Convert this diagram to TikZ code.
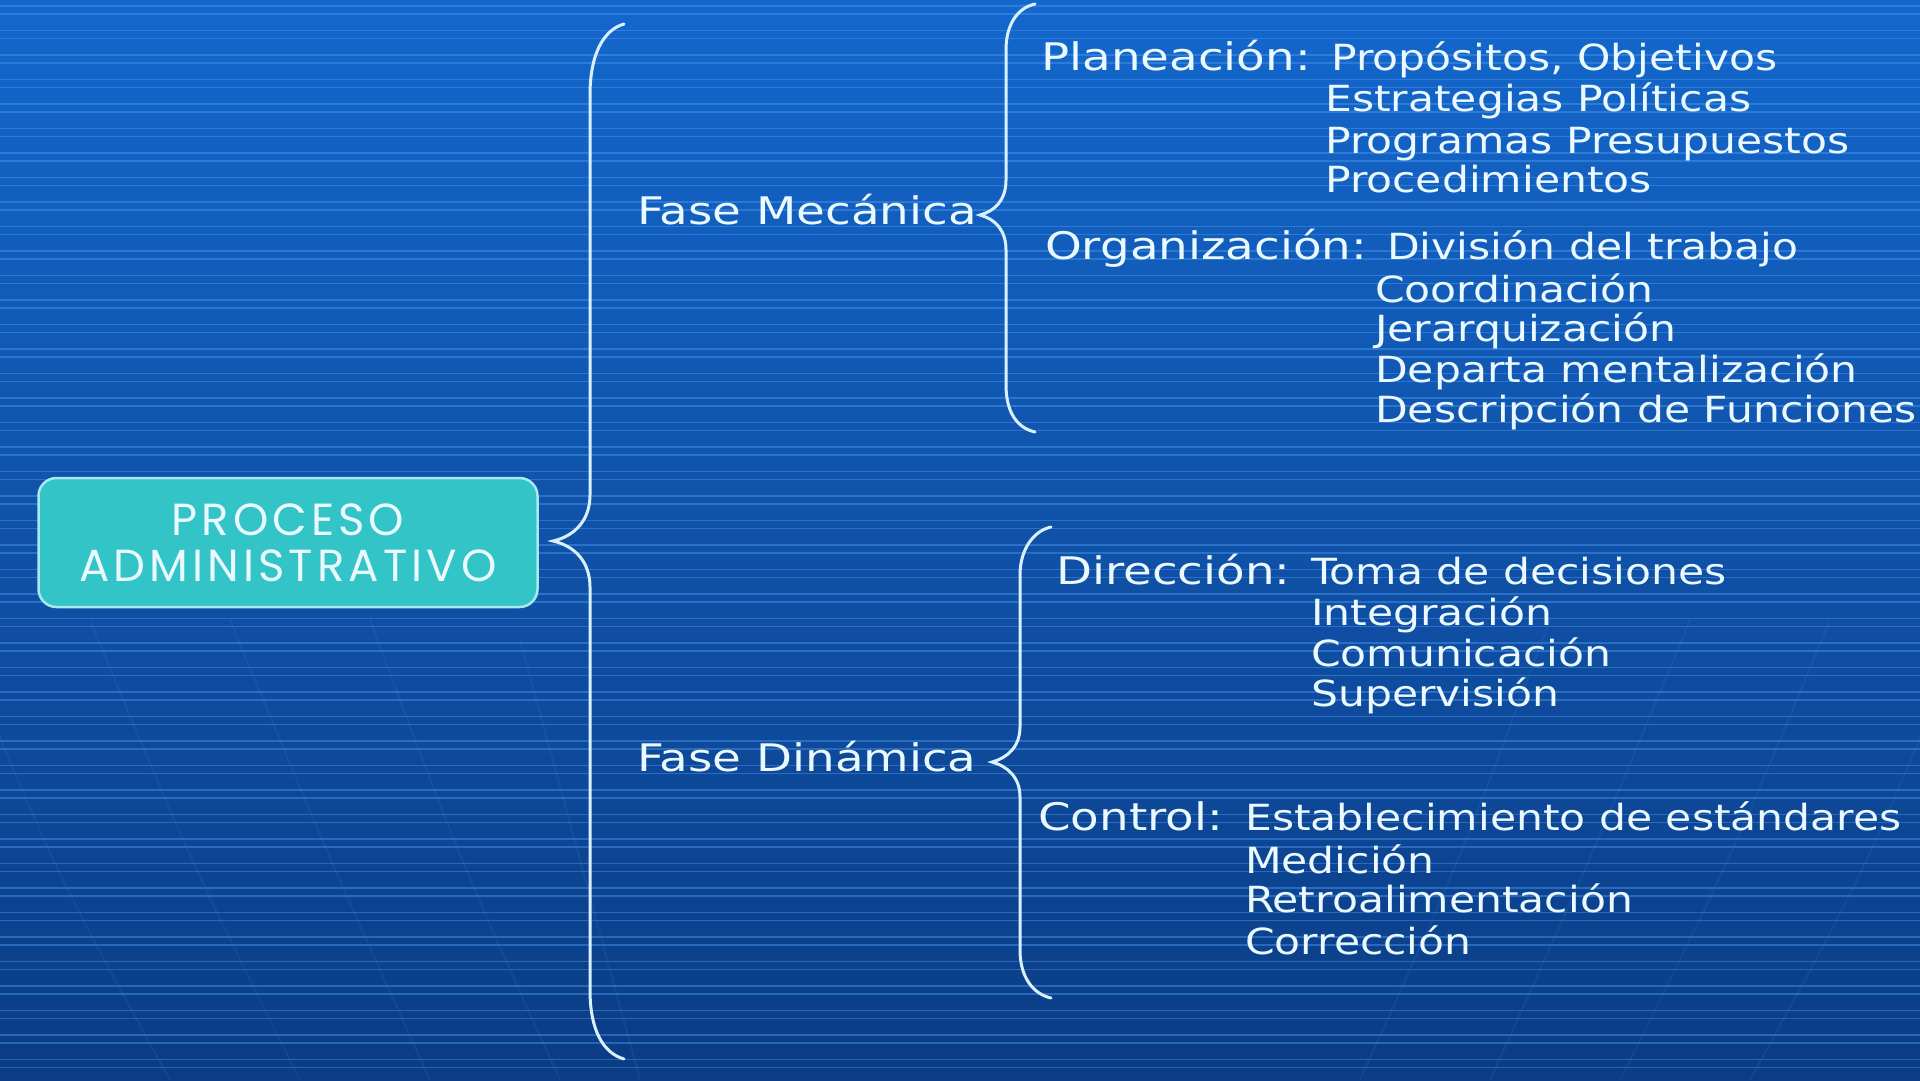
\documentclass[tikz,border=0pt]{standalone}
\usepackage{fontspec}
\setmainfont{DejaVu Sans}
\newfontfamily\txtfont[FakeStretch=1.18]{DejaVu Sans}
\newfontfamily\headfont[FakeStretch=1.23]{DejaVu Sans}
\newfontfamily\boxfont[LetterSpace=9]{Poppins}
\usetikzlibrary{calc}
\definecolor{bgtop}{HTML}{1467CC}
\definecolor{bgmid}{HTML}{0A53AC}
\definecolor{bgbot}{HTML}{0B3C84}
\definecolor{stripec}{HTML}{4A9AF2}
\definecolor{txtc}{HTML}{EAF8FF}
\definecolor{boxfill}{HTML}{33C4C8}
\definecolor{boxline}{HTML}{A8E8EE}
\definecolor{bracec}{HTML}{D8F0FF}
\tikzset{
  stripe/.style={draw=stripec, line width=1.6pt, opacity=0.45},
  globe/.style={draw=stripec, line width=2pt, opacity=0.10},
  lbl/.style={font=\txtfont\fontsize{36}{40}\selectfont, text=txtc, inner sep=0pt, anchor=base west},
  head/.style={font=\headfont\fontsize{38}{42}\selectfont, text=txtc, inner sep=0pt, anchor=base west},
  procbox/.style={draw=boxline, line width=2.5pt, fill=boxfill, rounded corners=18pt,
    minimum width=499pt, minimum height=129pt, align=center, text=txtc,
    font=\boxfont\fontsize{45}{46}\selectfont, inner sep=0pt},
  bracel/.style={draw=bracec, line width=3pt, line cap=round}
}
\begin{document}
\begin{tikzpicture}[x=1pt,y=-1pt]
\useasboundingbox (0,0) rectangle (1920,1080);
\shade[top color=bgtop, middle color=bgmid, bottom color=bgbot] (0,0) rectangle (1920,1080);
\foreach \k in {0,...,44} {
  \draw[stripe] (0,{6+24.5*\k}) -- (1920,{6+24.5*\k});
  \draw[stripe] (0,{14+24.5*\k}) -- (1920,{14+24.5*\k});
}
% faint globe lines
\draw[globe] (-20,690) .. controls (60,880) .. (170,1080);
\draw[globe] (90,620) .. controls (190,860) .. (300,1080);
\draw[globe] (230,620) .. controls (330,860) .. (430,1080);
\draw[globe] (370,620) .. controls (460,860) .. (560,1080);
\draw[globe] (520,640) .. controls (580,860) .. (640,1080);
\draw[globe] (1940,690) .. controls (1860,880) .. (1750,1080);
\draw[globe] (1830,620) .. controls (1730,860) .. (1620,1080);
\draw[globe] (1690,620) .. controls (1590,860) .. (1490,1080);
\draw[globe] (1550,620) .. controls (1460,860) .. (1360,1080);

% main box
\node[procbox] (proc) at (288,542.5) {PROCESO\\ADMINISTRATIVO};

% phase labels
\node[head] (fm) at (637,224) {Fase Mecánica};
\node[head] (fd) at (637,771) {Fase Dinámica};

% Planeacion
\node[head] (plan) at (1041,70) {Planeación:};
\node[lbl] (p1) at (1331,70) {Propósitos, Objetivos};
\node[lbl] (p2) at (1325,111) {Estrategias Políticas};
\node[lbl] (p3) at (1325,153) {Programas Presupuestos};
\node[lbl] (p4) at (1325,192) {Procedimientos};

% Organizacion
\node[head] (org) at (1045,259) {Organización:};
\node[lbl] (o1) at (1387,259) {División del trabajo};
\node[lbl] (o2) at (1375,302) {Coordinación};
\node[lbl] (o3) at (1375,341) {Jerarquización};
\node[lbl] (o4) at (1375,382) {Departa mentalización};
\node[lbl] (o5) at (1375,422) {Descripción de Funciones};

% Direccion
\node[head] (dir) at (1056,584) {Dirección:};
\node[lbl] (d1) at (1311,584) {Toma de decisiones};
\node[lbl] (d2) at (1311,625) {Integración};
\node[lbl] (d3) at (1311,666) {Comunicación};
\node[lbl] (d4) at (1311,706) {Supervisión};

% Control
\node[head] (ctl) at (1038,830) {Control:};
\node[lbl] (c1) at (1245,830) {Establecimiento de estándares};
\node[lbl] (c2) at (1245,873) {Medición};
\node[lbl] (c3) at (1245,912) {Retroalimentación};
\node[lbl] (c4) at (1245,954) {Corrección};

% brace coordinates
\coordinate (bigtop) at (624,24);
\coordinate (bigtip) at (553,541);
\coordinate (bigbot) at (624,1059);
\coordinate (mtop) at (1035,4);
\coordinate (mtip) at (980,215);
\coordinate (mbot) at (1035,432);
\coordinate (dtop) at (1051,527);
\coordinate (dtip) at (992,762);
\coordinate (dbot) at (1051,998);

\draw[bracel] (bigtop) .. controls (603,30) and (590,55) .. (590,95) -- (590,495)
  .. controls (590,520) and (575,536) .. (bigtip)
  .. controls (575,546) and (590,562) .. (590,587) -- (590,990)
  .. controls (590,1030) and (603,1053) .. (bigbot);

\draw[bracel] (mtop) .. controls (1017,8) and (1006,25) .. (1006,50) -- (1006,180)
  .. controls (1006,200) and (995,211) .. (mtip)
  .. controls (995,219) and (1006,230) .. (1006,250) -- (1006,385)
  .. controls (1006,412) and (1017,428) .. (mbot);

\draw[bracel] (dtop) .. controls (1033,531) and (1020,550) .. (1020,575) -- (1020,727)
  .. controls (1020,747) and (1007,758) .. (dtip)
  .. controls (1007,766) and (1020,777) .. (1020,797) -- (1020,950)
  .. controls (1020,977) and (1033,994) .. (dbot);
\end{tikzpicture}
\end{document}
